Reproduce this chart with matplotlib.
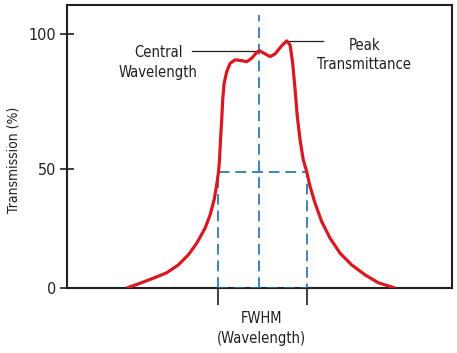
import numpy as np
import matplotlib
matplotlib.use("Agg")
import matplotlib.pyplot as plt

plt.rcParams['font.family'] = ['DejaVu Sans']
plt.rcParams['font.stretch'] = 'condensed'

# ---- data ----
wavelength = [433.7, 440.4, 447.0, 453.7, 459.5, 464.5, 468.7, 472.9, 475.4, 477.4,
              478.7, 479.6, 480.1, 480.6, 481.2, 481.7, 482.4, 483.7, 485.4, 487.9,
              491.2, 493.7, 496.2, 498.7, 500.0, 502.9, 505.4, 507.9, 511.2, 513.7,
              515.4, 516.7, 517.9, 519.0, 520.4, 522.0, 523.7, 525.4, 527.9, 531.2,
              535.4, 540.4, 546.2, 552.9, 559.5, 567.9]
transmission = [0, 2.0, 4.1, 6.4, 9.7, 13.9, 18.8, 25.1, 30.7, 37.0,
                43.3, 48.7, 53.3, 60.7, 68.1, 75.6, 81.7, 86.0, 89.1, 90.4,
                90.1, 89.7, 91.0, 93.1, 93.8, 92.6, 91.6, 92.6, 95.6, 97.4,
                95.9, 89.1, 79.3, 69.4, 60.7, 53.3, 48.9, 42.6, 35.6, 27.9,
                20.9, 14.6, 9.7, 5.5, 2.2, 0]
center_wl = 500
fwhm_lo, fwhm_hi = 479.4, 523.9
half_max = 48.7
peak_wl, peak_val = 513.7, 97.5
center_val = 93.6
yticks = [0, 50, 100]
yticklabels = ['0', '50', '100']

# piecewise-linear y scale (schematic axis)
_v = np.array([0, 50, 120])
_p = np.array([0, 119, 308])
def fwd(v):
    return np.interp(v, _v, _p)
def inv(p):
    return np.interp(p, _p, _v)

fig = plt.figure(figsize=(4.57, 3.53), dpi=100)
ax = fig.add_axes([67/457, 65/353, 385/457, 283/353])
ax.set_yscale('function', functions=(fwd, inv))
ax.set_xlim(403.85, 596.35)
ax.set_ylim(0, 110.7)

dark = '#231f20'
blue = '#1f6fa8'
red = '#d71920'

for s in ax.spines.values():
    s.set_color(dark)
    s.set_linewidth(1.5)

dash = (0, (6.5, 3.5))
# dashed FWHM box
ax.plot([fwhm_lo, fwhm_lo, fwhm_hi, fwhm_hi, fwhm_lo],
        [0, half_max, half_max, 0, 0], color=blue, lw=1.2, ls=dash, zorder=3)
ax.plot([center_wl, center_wl], [0, 107], color=blue, lw=1.2, ls=dash, zorder=3)

ax.plot(wavelength, transmission, color=red, lw=2.3, solid_joinstyle='round',
        solid_capstyle='butt', zorder=4)

# leader lines
ax.plot([466.5, center_wl - 1], [center_val, center_val], color=dark, lw=0.9)
ax.plot([peak_wl, 532], [peak_val, peak_val], color=dark, lw=0.9)

ax.text(449.5, 89.4, 'Central\nWavelength', ha='center', va='center',
        fontsize=10.5, linespacing=1.4, color=dark)
ax.text(552.5, 92.2, 'Peak\nTransmittance', ha='center', va='center',
        fontsize=10.5, linespacing=1.4, color=dark)

ax.set_yticks(yticks)
ax.set_yticklabels(yticklabels)
ax.tick_params(axis='y', direction='inout', length=9.4, width=1.2, color=dark,
               labelsize=11.5, labelcolor=dark, pad=3)
ax.set_xticks([fwhm_lo, fwhm_hi])
ax.set_xticklabels(['', ''])
ax.tick_params(axis='x', direction='out', length=12, width=1.2, color=dark)
ax.minorticks_off()

ax.set_xlabel('FWHM\n(Wavelength)', fontsize=10.5, linespacing=1.4, color=dark,
              va='center')
ax.xaxis.set_label_coords(0.506, -0.143)
ax.set_ylabel('Transmission (%)', fontsize=10, color=dark, va='center')
ax.yaxis.set_label_coords(-0.14, 0.452)

fig.savefig('out.png', dpi=100)
